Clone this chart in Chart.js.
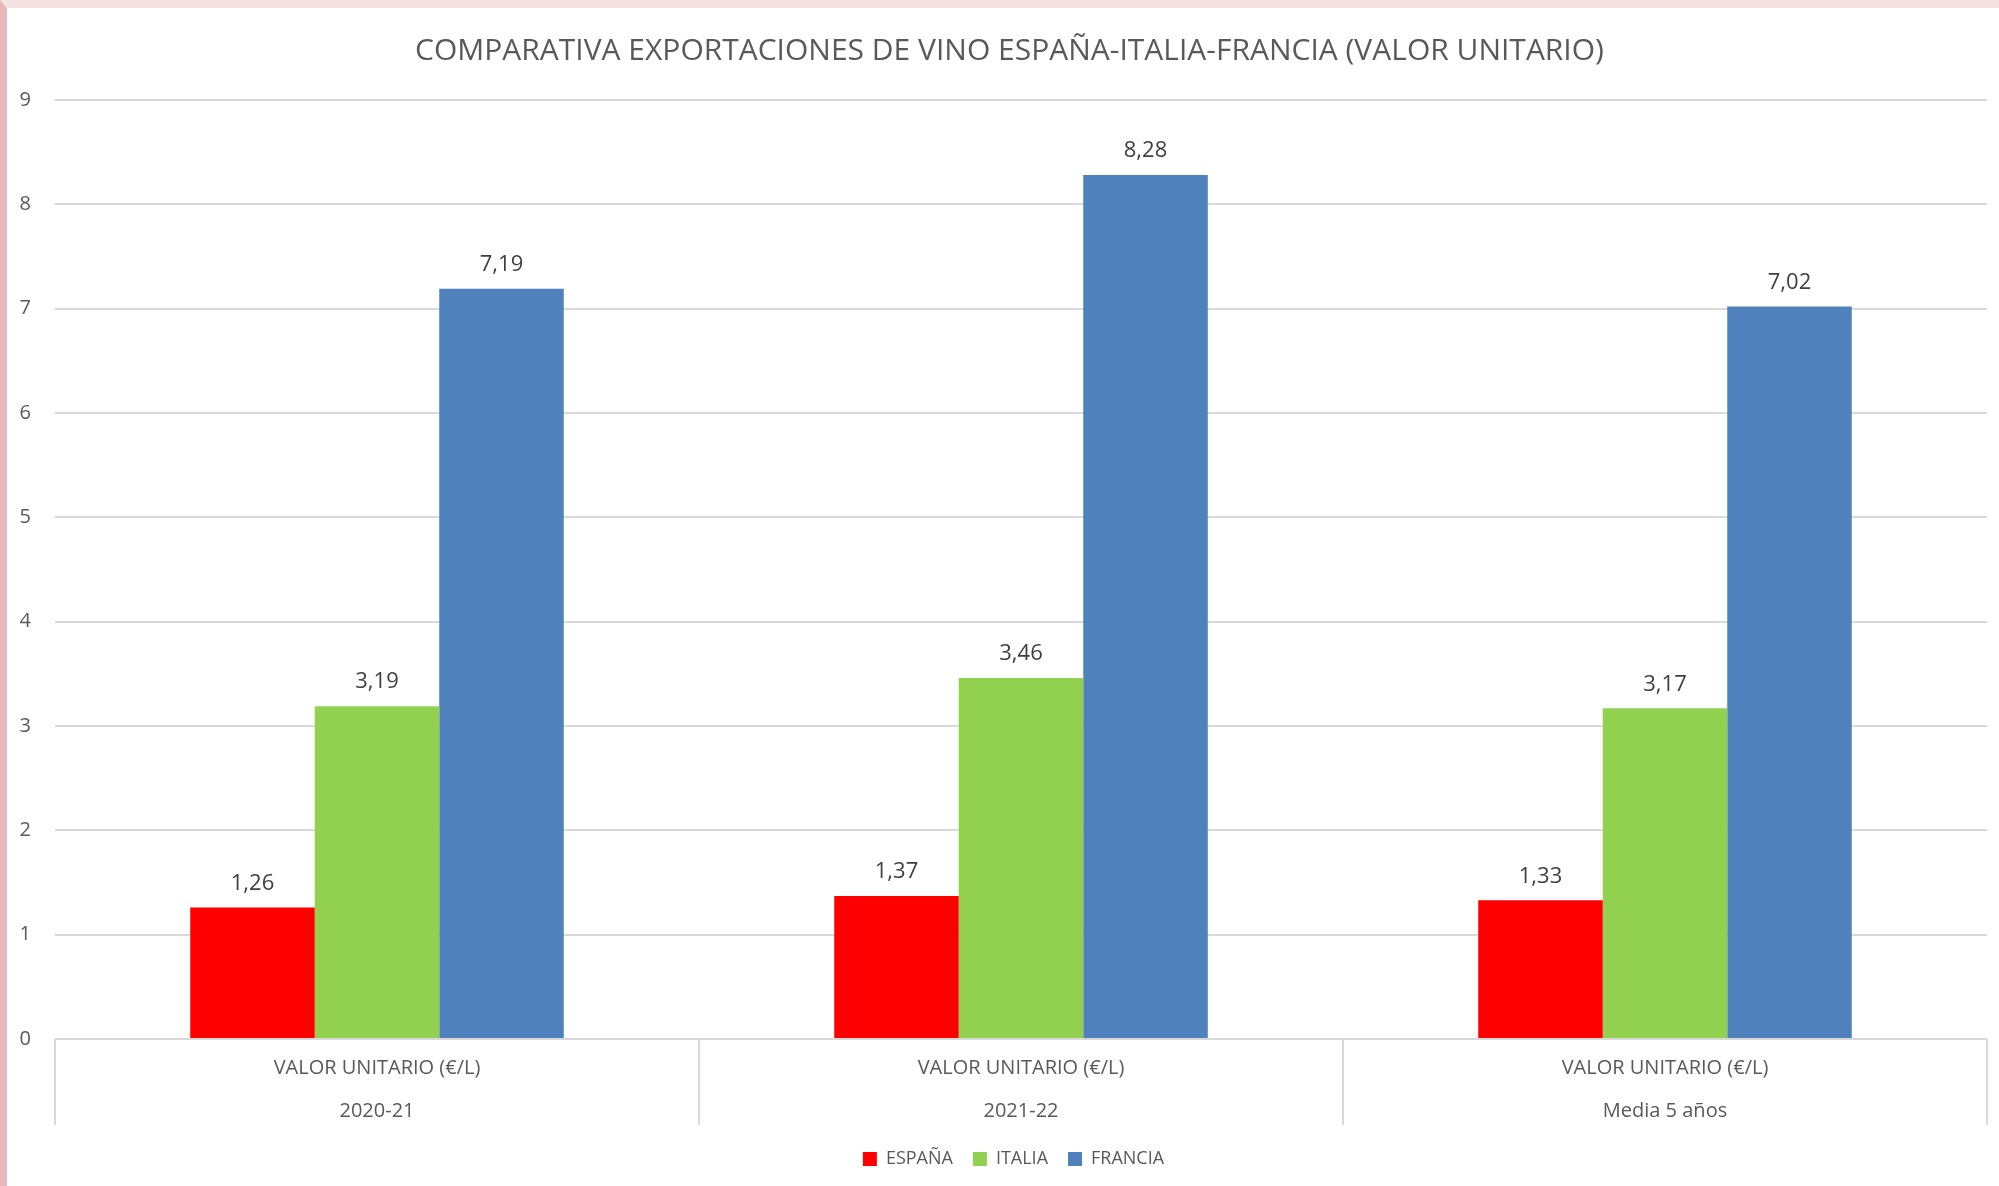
<!DOCTYPE html>
<html>
<head>
<meta charset="utf-8">
<script src="https://cdn.jsdelivr.net/npm/chart.js@4"></script>
<style>
  html, body { margin: 0; padding: 0; background: #f5e2e3; }
  #wrap {
    position: absolute; left: 0; top: 0;
    width: 1992px; height: 1178px;
    border-left: 7px solid #e8b7ba;
    border-top: 8px solid #f5e2e3;
    background: #ffffff;
  }
</style>
</head>
<body>
<div id="wrap"><canvas id="vinoChart" width="1992" height="1178"></canvas></div>
<script>
const categorias = [
  ['VALOR UNITARIO (€/L)', '2020-21'],
  ['VALOR UNITARIO (€/L)', '2021-22'],
  ['VALOR UNITARIO (€/L)', 'Media 5 años']
];
const espana = [1.26, 1.37, 1.33];
const italia = [3.19, 3.46, 3.17];
const francia = [7.19, 8.28, 7.02];
const yTicks = [0, 1, 2, 3, 4, 5, 6, 7, 8, 9];

const gris = '#595959';
const fuente = '"Open Sans", sans-serif';

// etiquetas encima de cada barra (formato con coma)
const etiquetas = {
  id: 'etiquetas',
  afterDatasetsDraw(chart) {
    const ctx = chart.ctx;
    ctx.save();
    ctx.font = '22px ' + fuente;
    ctx.fillStyle = '#404040';
    ctx.textAlign = 'center';
    ctx.textBaseline = 'bottom';
    chart.data.datasets.forEach((ds, i) => {
      chart.getDatasetMeta(i).data.forEach((bar, j) => {
        ctx.fillText(ds.data[j].toFixed(2).replace('.', ','), bar.x, bar.y - 13);
      });
    });
    ctx.restore();
  }
};

// separadores verticales entre categorías, bajo el eje
const separadores = {
  id: 'separadores',
  afterLayout(chart) {
    // leyenda y título un poco desplazados como en el original
    const lg = chart.legend;
    lg.top -= 3; lg.bottom -= 3;
    lg.left += 10; lg.right += 10;
    const t = chart.titleBlock;
    t.left += 6; t.right += 6;
  },
  afterDraw(chart) {
    const x = chart.scales.x;
    const n = chart.data.labels.length;
    const ancho = x.width / n;
    const ctx = chart.ctx;
    ctx.save();
    ctx.strokeStyle = '#d9d9d9';
    ctx.lineWidth = 2;
    ctx.beginPath();
    for (let i = 0; i <= n; i++) {
      const px = Math.round(x.left + i * ancho);
      ctx.moveTo(px, chart.chartArea.bottom);
      ctx.lineTo(px, chart.chartArea.bottom + 86);
    }
    ctx.stroke();
    ctx.restore();
  }
};

const ctx = document.getElementById('vinoChart').getContext('2d');
new Chart(ctx, {
  type: 'bar',
  data: {
    labels: categorias,
    datasets: [
      { label: 'ESPAÑA', data: espana, backgroundColor: '#ff0000' },
      { label: 'ITALIA', data: italia, backgroundColor: '#92d050' },
      { label: 'FRANCIA', data: francia, backgroundColor: '#4f81bd' }
    ]
  },
  options: {
    responsive: false,
    animation: false,
    layout: { padding: { left: 13, right: 12, top: 0, bottom: 5 } },
    datasets: { bar: { categoryPercentage: 0.58, barPercentage: 1.0 } },
    plugins: {
      title: {
        display: true,
        text: 'COMPARATIVA EXPORTACIONES DE VINO ESPAÑA-ITALIA-FRANCIA (VALOR UNITARIO)',
        color: gris,
        font: { family: fuente, size: 30, weight: 'normal' },
        padding: { top: 25, bottom: 31 }
      },
      legend: {
        position: 'bottom',
        labels: {
          color: gris,
          font: { family: fuente, size: 18 },
          boxWidth: 14,
          boxHeight: 14,
          padding: 20
        }
      },
      tooltip: { enabled: false }
    },
    scales: {
      x: {
        grid: { display: false },
        border: { display: false },
        ticks: {
          color: gris,
          font: { family: fuente, size: 20, lineHeight: 2.15 },
          padding: 0,
          maxRotation: 0,
          autoSkip: false
        }
      },
      y: {
        min: 0,
        max: 9,
        afterBuildTicks(scale) { scale.ticks = yTicks.map(v => ({ value: v })); },
        afterFit(scale) { scale.width = 35; },
        grid: { color: '#d9d9d9', lineWidth: 2, drawTicks: false },
        border: { display: false },
        ticks: {
          color: gris,
          font: { family: fuente, size: 20 },
          padding: 24
        }
      }
    }
  },
  plugins: [etiquetas, separadores]
});
</script>
</body>
</html>
